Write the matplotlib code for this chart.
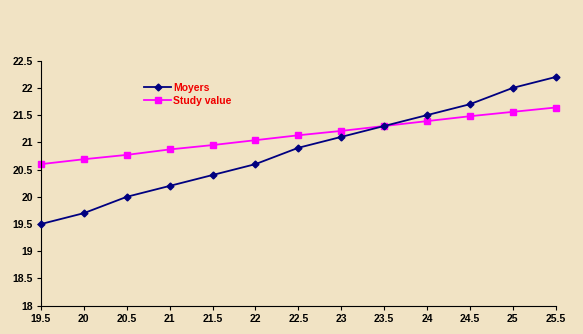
import matplotlib.pyplot as plt
from matplotlib.ticker import MultipleLocator, FormatStrFormatter

# x values (shared) and the two series
x = [19.5, 20, 20.5, 21, 21.5, 22, 22.5, 23, 23.5, 24, 24.5, 25, 25.5]
moyers = [19.5, 19.7, 20.0, 20.2, 20.4, 20.6, 20.9, 21.1, 21.3, 21.5, 21.7, 22.0, 22.2]
study = [20.6, 20.69, 20.77, 20.87, 20.95, 21.04, 21.13, 21.21, 21.3, 21.39, 21.48, 21.56, 21.64]

bg = '#f1e3c4'
plt.rcParams['font.family'] = ['Liberation Sans', 'DejaVu Sans']

fig = plt.figure(figsize=(5.83, 3.34), dpi=100)
fig.patch.set_facecolor(bg)
ax = fig.add_axes([0.0703, 0.0847, 0.8827, 0.7336])
ax.set_facecolor(bg)

ax.plot(x, moyers, color='#000080', lw=1.3, marker='D', ms=3.5, label='Moyers', clip_on=False, zorder=3)
ax.plot(x, study, color='#ff00ff', lw=1.3, marker='s', ms=5, label='Study value', clip_on=False, zorder=2)

ax.set_xlim(19.5, 25.5)
ax.set_ylim(18, 22.5)
ax.xaxis.set_major_locator(MultipleLocator(0.5))
ax.yaxis.set_major_locator(MultipleLocator(0.5))
ax.xaxis.set_major_formatter(FormatStrFormatter('%g'))
ax.yaxis.set_major_formatter(FormatStrFormatter('%g'))

for s in ['top', 'right']:
    ax.spines[s].set_visible(False)
for s in ['left', 'bottom']:
    ax.spines[s].set_linewidth(0.8)
ax.tick_params(direction='out', length=3, width=0.8, labelsize=7.5, pad=3)
for lbl in ax.get_xticklabels() + ax.get_yticklabels():
    lbl.set_fontweight('bold')

leg = ax.legend(loc='upper left', bbox_to_anchor=(0.19, 0.932), frameon=False,
                fontsize=7.5, handlelength=2.6, handletextpad=0.2, labelspacing=0.3,
                borderpad=0)
for t in leg.get_texts():
    t.set_color('#f00000')
    t.set_fontweight('bold')

fig.savefig('out.png', dpi=100, facecolor=bg)
